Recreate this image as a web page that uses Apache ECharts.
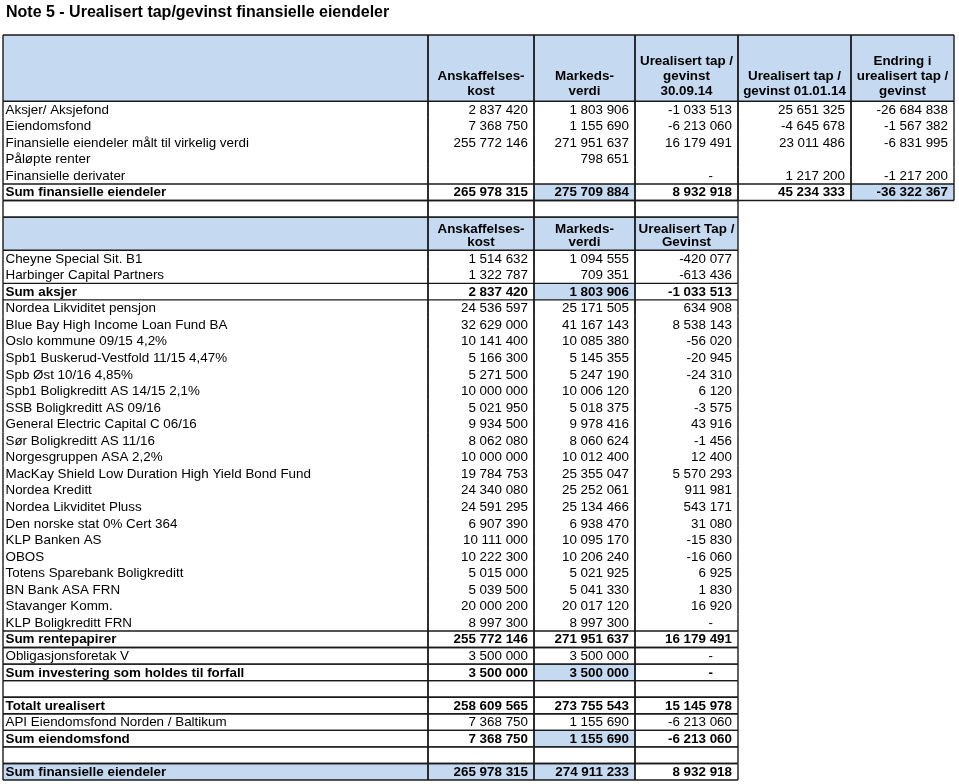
<!DOCTYPE html>
<html><head><meta charset="utf-8">
<script src="https://cdn.jsdelivr.net/npm/echarts@6/dist/echarts.min.js"></script>
<style>html,body{margin:0;padding:0;background:#fff}#c{width:959px;height:784px}</style>
</head><body><div id="c"></div>
<script>
// ---------------- DATA ----------------
const titleText = 'Note 5 - Urealisert tap/gevinst finansielle eiendeler';

const summaryColumns = ['Anskaffelses-\nkost', 'Markeds-\nverdi', 'Urealisert tap /\ngevinst\n30.09.14', 'Urealisert tap /\ngevinst 01.01.14', 'Endring i\nurealisert tap /\ngevinst'];
const summaryRows = ['Aksjer/ Aksjefond', 'Eiendomsfond', 'Finansielle eiendeler målt til virkelig verdi', 'Påløpte renter', 'Finansielle derivater', 'Sum finansielle eiendeler'];
const summaryCost   = [2837420, 7368750, 255772146, null, null, 265978315];
const summaryMarket = [1803906, 1155690, 271951637, 798651, null, 275709884];
const summaryUnreal = [-1033513, -6213060, 16179491, null, 0, 8932918];
const summaryPrev   = [25651325, -4645678, 23011486, null, 1217200, 45234333];
const summaryChange = [-26684838, -1567382, -6831995, null, -1217200, -36322367];

const detailColumns = ['Anskaffelses-\nkost', 'Markeds-\nverdi', 'Urealisert Tap /\nGevinst'];
const detailRows = [
  'Cheyne Special Sit. B1', 'Harbinger Capital Partners', 'Sum aksjer',
  'Nordea Likviditet pensjon', 'Blue Bay High Income Loan Fund BA', 'Oslo kommune 09/15 4,2%',
  'Spb1 Buskerud-Vestfold 11/15 4,47%', 'Spb Øst 10/16 4,85%', 'Spb1 Boligkreditt AS 14/15 2,1%',
  'SSB Boligkreditt AS 09/16', 'General Electric Capital C 06/16', 'Sør Boligkreditt AS 11/16',
  'Norgesgruppen ASA 2,2%', 'MacKay Shield Low Duration High Yield Bond Fund', 'Nordea Kreditt',
  'Nordea Likviditet Pluss', 'Den norske stat 0% Cert 364', 'KLP Banken AS', 'OBOS',
  'Totens Sparebank Boligkreditt', 'BN Bank ASA FRN', 'Stavanger Komm.', 'KLP Boligkreditt FRN',
  'Sum rentepapirer', 'Obligasjonsforetak V', 'Sum investering som holdes til forfall', '',
  'Totalt urealisert', 'API Eiendomsfond Norden / Baltikum', 'Sum eiendomsfond', '',
  'Sum finansielle eiendeler'
];
const detailCost = [
  1514632, 1322787, 2837420,
  24536597, 32629000, 10141400, 5166300, 5271500, 10000000, 5021950, 9934500, 8062080,
  10000000, 19784753, 24340080, 24591295, 6907390, 10111000, 10222300, 5015000, 5039500,
  20000200, 8997300, 255772146, 3500000, 3500000, null,
  258609565, 7368750, 7368750, null, 265978315
];
const detailMarket = [
  1094555, 709351, 1803906,
  25171505, 41167143, 10085380, 5145355, 5247190, 10006120, 5018375, 9978416, 8060624,
  10012400, 25355047, 25252061, 25134466, 6938470, 10095170, 10206240, 5021925, 5041330,
  20017120, 8997300, 271951637, 3500000, 3500000, null,
  273755543, 1155690, 1155690, null, 274911233
];
const detailUnreal = [
  -420077, -613436, -1033513,
  634908, 8538143, -56020, -20945, -24310, 6120, -3575, 43916, -1456,
  12400, 5570293, 911981, 543171, 31080, -15830, -16060, 6925, 1830,
  16920, 0, 16179491, 0, 0, null,
  15145978, -6213060, -6213060, null, 8932918
];

// ---------------- LAYOUT / STYLE ----------------
const FONT = '"Liberation Sans", Arial, Helvetica, sans-serif';
const FS = 13.4;
const BLUE = '#c5d9f1';
const LINE = '#1a1a1a';
const LW = 1.4;
const colEdges = [0, 425, 531, 632, 735, 848, 951];   // in grid units (px)
const TOTAL_UNITS = 45;
const layout = {
  sumHeadRow: 0, sumHeadSpan: 4, sumDataRow: 4,
  gapRow: 10, detHeadRow: 11, detHeadSpan: 2, detDataRow: 13,
  sumHeadLH: 15, sumHeadPad: 2.5, detHeadLH: 13, detHeadPad: 1.5
};
const highlights = {
  summary: [[5, 2], [5, 5]],
  detail: [[2, 2], [25, 2], [29, 2], [31, 0], [31, 1], [31, 2]]
};
const detailRuled = i => i === 2 || i >= 23;
const isBold = l => /^(Sum|Totalt)/.test(l);
const isHL = (tbl, r, c) => highlights[tbl].some(h => h[0] === r && h[1] === c);

function fmt(v) {
  if (v == null) return '';
  if (v === 0) return '-';
  const s = Math.abs(v).toString().replace(/\B(?=(\d{3})+(?!\d))/g, ' ');
  return (v < 0 ? '-' : '') + s;
}

// ---------------- CELLS ----------------
const cells = [];
const ALL = {t: 1, b: 1, l: 1, r: 1};
['', ...summaryColumns].forEach((t, c) => cells.push({
  row: layout.sumHeadRow, span: layout.sumHeadSpan, col: c, text: t, kind: 'head', bold: true,
  lh: layout.sumHeadLH, pad: layout.sumHeadPad, fill: BLUE, b: ALL
}));
summaryRows.forEach((label, i) => {
  const bold = isBold(label);
  const vals = [summaryCost[i], summaryMarket[i], summaryUnreal[i], summaryPrev[i], summaryChange[i]];
  [label, ...vals].forEach((v, c) => cells.push({
    row: layout.sumDataRow + i, span: 1, col: c,
    text: c === 0 ? v : fmt(v), kind: c === 0 ? 'label' : 'num', dash: v === 0, bold,
    fill: isHL('summary', i, c) ? BLUE : null,
    b: {t: bold ? 1 : 0, b: (bold || i === summaryRows.length - 1) ? 1 : 0, l: 1, r: 1}
  }));
});
for (let c = 0; c < 4; c++) cells.push({row: layout.gapRow, span: 1, col: c, text: '', kind: 'label', b: ALL});
['', ...detailColumns].forEach((t, c) => cells.push({
  row: layout.detHeadRow, span: layout.detHeadSpan, col: c, text: t, kind: 'head', bold: true,
  lh: layout.detHeadLH, pad: layout.detHeadPad, fill: BLUE, b: ALL
}));
detailRows.forEach((label, i) => {
  const bold = isBold(label);
  const ruled = detailRuled(i) ? 1 : 0;
  const vals = [detailCost[i], detailMarket[i], detailUnreal[i]];
  [label, ...vals].forEach((v, c) => cells.push({
    row: layout.detDataRow + i, span: 1, col: c,
    text: c === 0 ? v : fmt(v), kind: c === 0 ? 'label' : 'num', dash: v === 0, bold,
    fill: isHL('detail', i, c) ? BLUE : null,
    b: {t: ruled, b: ruled, l: 1, r: 1}
  }));
});

const seriesData = cells.map(c => [colEdges[c.col], c.row]);

function geom(c, api) {
  const bandH = api.size([0, 1])[1];
  const p0 = api.coord([colEdges[c.col], c.row]);
  const p1 = api.coord([colEdges[c.col + 1], c.row]);
  const top = p0[1] - bandH / 2;
  return {left: p0[0], right: p1[0], top, bottom: top + bandH * c.span, bandH};
}

function renderFill(params, api) {
  const c = cells[params.dataIndex];
  if (!c.fill) return {type: 'group', children: []};
  const g = geom(c, api);
  return {type: 'rect', shape: {x: g.left, y: g.top, width: g.right - g.left, height: g.bottom - g.top}, style: {fill: c.fill}};
}

function renderCell(params, api) {
  const c = cells[params.dataIndex];
  const g = geom(c, api);
  const ch = [];
  const ln = (x1, y1, x2, y2) => ch.push({type: 'line', shape: {x1, y1, x2, y2}, style: {stroke: LINE, lineWidth: LW}});
  if (c.b.t) ln(g.left, g.top, g.right, g.top);
  if (c.b.b) ln(g.left, g.bottom, g.right, g.bottom);
  if (c.b.l) ln(g.left, g.top, g.left, g.bottom);
  if (c.b.r) ln(g.right, g.top, g.right, g.bottom);
  if (c.text) {
    const st = {text: c.text, fill: '#000', fontFamily: FONT, fontSize: FS, fontWeight: c.bold ? 'bold' : 'normal'};
    if (c.kind === 'head') {
      Object.assign(st, {x: (g.left + g.right) / 2, y: g.bottom - c.pad, align: 'center', verticalAlign: 'bottom', lineHeight: c.lh});
    } else if (c.kind === 'label') {
      Object.assign(st, {x: g.left + 2.5, y: (g.top + g.bottom) / 2 + 0.5, align: 'left', verticalAlign: 'middle'});
    } else {
      Object.assign(st, {x: g.right - (c.dash ? 25 : 6), y: (g.top + g.bottom) / 2 + 0.5, align: 'right', verticalAlign: 'middle'});
    }
    ch.push({type: 'text', style: st});
  }
  return {type: 'group', children: ch};
}

const chart = echarts.init(document.getElementById('c'), null, {renderer: 'canvas'});
chart.setOption({
  animation: false,
  backgroundColor: '#fff',
  title: {text: titleText, left: 6, top: 5, padding: 0,
    textStyle: {fontFamily: FONT, fontSize: 16, fontWeight: 'bold', color: '#000'}},
  grid: {left: 3, top: 35, width: 951, height: 745},
  xAxis: {type: 'value', min: 0, max: colEdges[colEdges.length - 1], show: false},
  yAxis: {type: 'category', inverse: true, show: false,
    data: Array.from({length: TOTAL_UNITS}, (_, i) => String(i))},
  series: [
    {type: 'custom', renderItem: renderFill, data: seriesData, clip: false, silent: true, z: 1},
    {type: 'custom', renderItem: renderCell, data: seriesData, clip: false, silent: true, z: 2}
  ]
});
</script>
</body></html>
